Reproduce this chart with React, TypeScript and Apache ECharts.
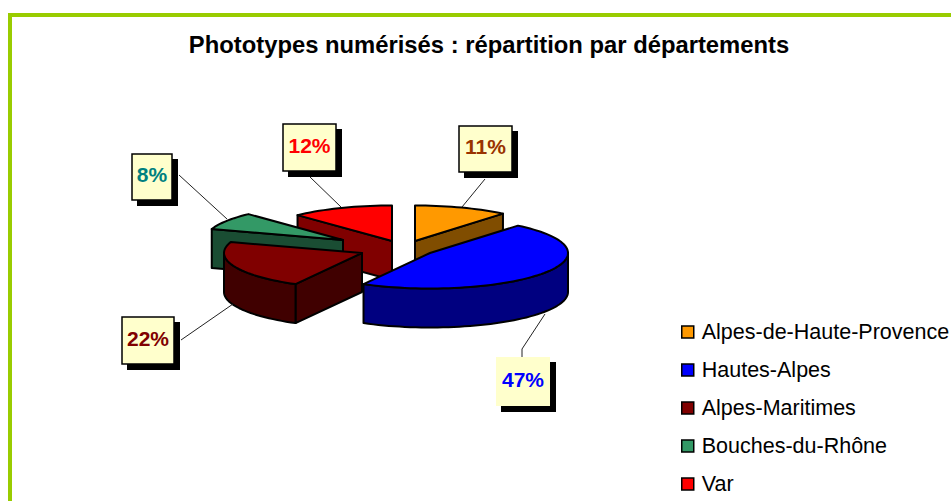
import React, { useEffect, useRef } from "react";
import * as echarts from "echarts";

const titleText = "Phototypes numérisés : répartition par départements";
const categories = ["Alpes-de-Haute-Provence", "Hautes-Alpes", "Alpes-Maritimes", "Bouches-du-Rhône", "Var"];
const shares = [11, 47, 22, 8, 12];

const topColors = ["#FF9900", "#0000FF", "#800000", "#339966", "#FF0000"];
const wallColors = ["#804D00", "#000080", "#400000", "#1A4D33", "#800000"];
const labelColors = ["#993300", "#0000FF", "#800000", "#008080", "#FF0000"];
const layers = [4, 5, 4, 3, 2];

// Exploded slice apexes, label boxes and leader lines.
const apexes = [[415, 241], [430, 253], [362, 253], [343, 240], [392, 241]];
const boxes = [[459, 126, 53, 46], [496, 357, 54, 49], [122, 317, 52, 47], [132, 154, 40, 46], [283, 124, 53, 47]];
const leaders = [
  [[485, 179], [462, 207]],
  [[545, 314], [522, 349], [522, 357]],
  [[181, 340], [233, 304]],
  [[179, 175], [227, 219]],
  [[310, 177], [341, 207]],
];
const boxBorder = [true, false, true, true, true];

const RX = 138;
const RY = 35.5;
const DEPTH = 39;
const STROKE = 2;

const total = shares.reduce((a, b) => a + b, 0);
const rad = (share: number) => (share / total) * Math.PI * 2;

function sliceChildren(index: number, value: number) {
  const before = shares.slice(0, index).reduce((a, b) => a + b, 0);
  const a1 = rad(before);
  const a2 = a1 + rad(value);
  const [cx, cy] = apexes[index];
  const rim = (t: number, d = 0) => [cx + RX * Math.sin(t), cy - RY * Math.cos(t) + d];
  const arc = (from: number, to: number, d = 0) => {
    const steps = Math.max(2, Math.ceil((to - from) / 0.04));
    const out: number[][] = [];
    for (let i = 0; i <= steps; i++) out.push(rim(from + ((to - from) * i) / steps, d));
    return out;
  };
  const children: any[] = [];
  const wall = (points: number[][]) =>
    children.push({
      type: "polygon",
      shape: { points },
      style: { fill: wallColors[index], stroke: "#000", lineWidth: STROKE, lineJoin: "round" },
    });
  if (Math.sin(a1) < -1e-6) {
    wall([[cx, cy], rim(a1), rim(a1, DEPTH), [cx, cy + DEPTH]]);
  }
  if (Math.sin(a2) > 1e-6) {
    wall([[cx, cy], rim(a2), rim(a2, DEPTH), [cx, cy + DEPTH]]);
  }
  const vis1 = Math.max(a1, Math.PI / 2);
  const vis2 = Math.min(a2, (Math.PI * 3) / 2);
  if (vis2 > vis1) {
    wall([...arc(vis1, vis2), ...arc(vis1, vis2, DEPTH).reverse()]);
  }
  children.push({
    type: "polygon",
    shape: { points: [[cx, cy], ...arc(a1, a2)] },
    style: { fill: topColors[index], stroke: "#000", lineWidth: STROKE, lineJoin: "round" },
  });
  return children;
}

function labelChildren(index: number, value: number) {
  const [x, y, w, h] = boxes[index];
  return [
    {
      type: "polyline",
      shape: { points: leaders[index] },
      style: { fill: "none", stroke: "#222", lineWidth: 1 },
    },
    { type: "rect", shape: { x: x + 5, y: y + 5, width: w + 1, height: h + 1 }, style: { fill: "#000" } },
    {
      type: "rect",
      shape: { x, y, width: w, height: h },
      style: {
        fill: "#FFFFCC",
        stroke: boxBorder[index] ? "#000" : "none",
        lineWidth: boxBorder[index] ? 1.5 : 0,
      },
    },
    {
      type: "text",
      style: {
        text: `${value}%`,
        x: x + w / 2,
        y: y + h / 2 - 2.5,
        fill: labelColors[index],
        font: "bold 21px 'Liberation Sans', Arial, sans-serif",
        align: "center",
        verticalAlign: "middle",
      },
    },
  ];
}

export default function App() {
  const ref = useRef<HTMLDivElement>(null);
  useEffect(() => {
    const chart = echarts.init(ref.current!, undefined, { renderer: "svg" });
    const series: any[] = categories.map((name, i) => ({
      type: "custom",
      name,
      coordinateSystem: "none",
      silent: true,
      z: layers[i],
      itemStyle: { color: topColors[i] },
      data: [[shares[i]]],
      renderItem: (_p: any, api: any) => ({
        type: "group",
        children: sliceChildren(i, api.value(0)),
      }),
    }));
    const labelSeries: any[] = categories.map((name, i) => ({
      type: "custom",
      coordinateSystem: "none",
      silent: true,
      z: 6,
      data: [[shares[i]]],
      renderItem: (_p: any, api: any) => ({
        type: "group",
        children: labelChildren(i, api.value(0)),
      }),
    }));
    chart.setOption({
      animation: false,
      backgroundColor: "#FFFFFF",
      title: {
        text: titleText,
        left: 484,
        top: 27,
        textAlign: "center",
        textStyle: { fontFamily: "'Liberation Sans', Arial, sans-serif", fontWeight: "bold", fontSize: 23.8, color: "#000" },
      },
      legend: {
        data: categories,
        orient: "vertical",
        left: 681,
        top: 321,
        itemWidth: 12,
        itemHeight: 12,
        itemGap: 16,
        icon: "rect",
        itemStyle: { borderColor: "#000", borderWidth: 1.5 },
        textStyle: {
          fontFamily: "'Liberation Sans', Arial, sans-serif",
          fontSize: 21.5,
          color: "#000",
          padding: [0, 0, 0, 3],
        },
        selectedMode: false,
        padding: 0,
      },
      graphic: [
        {
          type: "rect",
          silent: true,
          z: 0,
          shape: { x: 10, y: 15, width: 1000, height: 600 },
          style: { fill: "none", stroke: "#99CC00", lineWidth: 4 },
        },
      ],
      series: [...series, ...labelSeries],
    });
    return () => chart.dispose();
  }, []);
  return <div ref={ref} style={{ position: "fixed", left: 0, top: 0, width: 951, height: 501 }} />;
}
